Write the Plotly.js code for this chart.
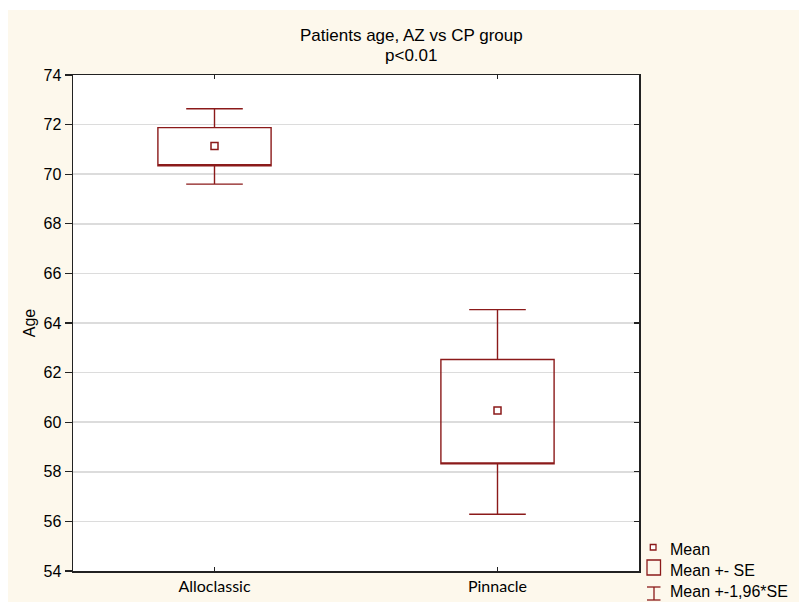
<!DOCTYPE html>
<html>
<head>
<meta charset="utf-8">
<script src="https://cdn.plot.ly/plotly-3.0.1.min.js"></script>
<style>
  html, body { margin: 0; padding: 0; background: #ffffff; width: 799px; height: 602px; overflow: hidden; }
  #chart { position: absolute; left: 8px; top: 10px; width: 791px; height: 592px; }
</style>
</head>
<body>
<div id="chart"></div>
<script>
// ---- data ----
var groups = ["Alloclassic", "Pinnacle"];
var means = [71.14, 60.47];
var seLow = [70.34, 58.32];      // Mean - SE
var seHigh = [71.88, 62.53];     // Mean + SE
var ciLow = [69.60, 56.29];      // Mean - 1.96*SE
var ciHigh = [72.64, 64.54];     // Mean + 1.96*SE
var yTicks = [54, 56, 58, 60, 62, 64, 66, 68, 70, 72, 74];

var red = "#8b1a1a";
var W = 791, H = 592, OX = 8, OY = 10;
var M = {l: 65, r: 160, t: 65, b: 31};
function px(x) { return (x - OX - M.l) / (W - M.l - M.r); }
function py(y) { return 1 - (y - OY - M.t) / (H - M.t - M.b); }

var traces = [
  {
    type: "box",
    x: groups,
    q1: seLow,
    median: seLow,
    q3: seHigh,
    lowerfence: ciLow,
    upperfence: ciHigh,
    width: 0.4,
    whiskerwidth: 0.5,
    boxpoints: false,
    fillcolor: "rgba(0,0,0,0)",
    line: {color: red, width: 1.4},
    showlegend: false,
    hoverinfo: "skip"
  },
  {
    type: "scatter",
    mode: "markers",
    x: groups,
    y: means,
    marker: {symbol: "square", size: 7, color: "#ffffff", line: {color: red, width: 1.5}},
    showlegend: false,
    hoverinfo: "skip"
  },
  {
    type: "scatter",
    mode: "markers",
    x: groups,
    y: means,
    yaxis: "y2",
    marker: {opacity: 0},
    showlegend: false,
    hoverinfo: "skip"
  }
];

var shapes = [
  {type: "rect", xref: "paper", yref: "paper", x0: px(647), x1: px(660.5), y0: py(560), y1: py(575),
   line: {color: red, width: 1.3}, fillcolor: "rgba(0,0,0,0)"},
  {type: "line", xref: "paper", yref: "paper", x0: px(647), x1: px(660.5), y0: py(587), y1: py(587), line: {color: red, width: 1.3}},
  {type: "line", xref: "paper", yref: "paper", x0: px(647), x1: px(660.5), y0: py(600), y1: py(600), line: {color: red, width: 1.3}},
  {type: "line", xref: "paper", yref: "paper", x0: px(654), x1: px(654), y0: py(587), y1: py(600), line: {color: red, width: 1.3}},
  {type: "rect", xref: "paper", yref: "paper", x0: px(650.3), x1: px(656), y0: py(544.5), y1: py(550),
   line: {color: red, width: 1.3}, fillcolor: "#ffffff"}
];

var arial = "Liberation Sans, Arial, sans-serif";
var legFont = {family: arial, size: 16, color: "#000000"};
var annotations = [
  {xref: "paper", yref: "paper", x: px(411), y: py(35), text: "Patients age, AZ vs CP group",
   showarrow: false, xanchor: "center", yanchor: "middle", font: {family: arial, size: 17, color: "#000"}},
  {xref: "paper", yref: "paper", x: px(411), y: py(56), text: "p&lt;0.01",
   showarrow: false, xanchor: "center", yanchor: "middle", font: {family: arial, size: 17, color: "#000"}},
  {xref: "paper", yref: "paper", x: px(668), y: py(549), text: "Mean", showarrow: false, xanchor: "left", yanchor: "middle", font: legFont},
  {xref: "paper", yref: "paper", x: px(668), y: py(570), text: "Mean +- SE", showarrow: false, xanchor: "left", yanchor: "middle", font: legFont},
  {xref: "paper", yref: "paper", x: px(668), y: py(591.5), text: "Mean +-1,96*SE", showarrow: false, xanchor: "left", yanchor: "middle", font: legFont}
];

var layout = {
  width: W,
  height: H,
  margin: M,
  paper_bgcolor: "#fdf8ec",
  plot_bgcolor: "#ffffff",
  showlegend: false,
  xaxis: {
    type: "category",
    range: [-0.5, 1.5],
    ticks: "inside",
    ticklen: 4,
    tickwidth: 1.2,
    tickcolor: "#222",
    showline: true,
    linecolor: "#222",
    linewidth: 1.5,
    mirror: "ticks",
    showgrid: false,
    zeroline: false,
    tickfont: {family: "Lato, Open Sans, sans-serif", size: 16, color: "#000"}
  },
  yaxis: {
    range: [54, 74],
    tickvals: yTicks,
    ticktext: yTicks.map(String),
    ticks: "outside",
    ticklen: 7,
    tickwidth: 1.2,
    tickcolor: "#222",
    showline: true,
    linecolor: "#222",
    linewidth: 1.5,
    mirror: true,
    showgrid: true,
    gridcolor: "#dcdcdc",
    gridwidth: 1.5,
    zeroline: false,
    tickfont: {family: arial, size: 16, color: "#000"},
    title: {text: "Age", standoff: 4, font: {family: arial, size: 16, color: "#000"}}
  },
  yaxis2: {
    overlaying: "y",
    side: "right",
    range: [54, 74],
    tickvals: yTicks,
    ticks: "inside",
    ticklen: 5,
    tickwidth: 1.2,
    tickcolor: "#222",
    showticklabels: false,
    showgrid: false,
    showline: false,
    zeroline: false
  },
  shapes: shapes,
  annotations: annotations
};

Plotly.newPlot("chart", traces, layout, {staticPlot: true, displayModeBar: false});
</script>
</body>
</html>
